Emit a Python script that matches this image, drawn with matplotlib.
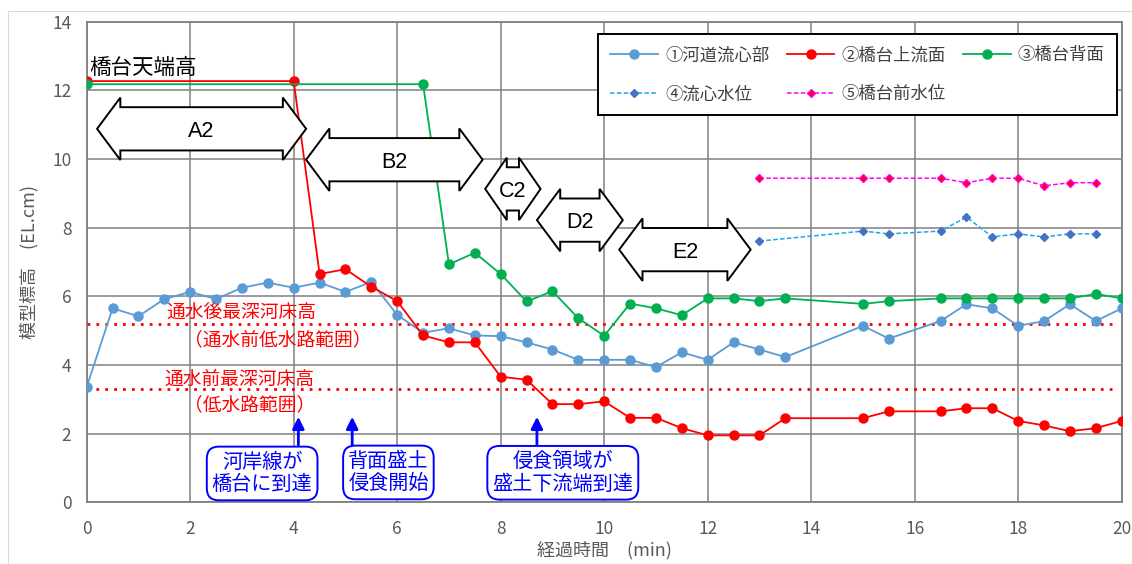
import numpy as np
import matplotlib
matplotlib.use('Agg')
import matplotlib.pyplot as plt
from matplotlib.patches import Polygon, Rectangle

plt.rcParams['font.family'] = ['Noto Sans CJK JP', 'DejaVu Sans']

# Data ----
t1 = [0, 0.5, 1, 1.5, 2, 2.5, 3, 3.5, 4, 4.5, 5, 5.5, 6, 6.5, 7, 7.5, 8, 8.5,
      9, 9.5, 10, 10.5, 11, 11.5, 12, 12.5, 13, 13.5, 15, 15.5, 16.5, 17,
      17.5, 18, 18.5, 19, 19.5, 20]
channel = [3.36, 5.65, 5.42, 5.92, 6.13, 5.92, 6.25, 6.40, 6.25, 6.40, 6.13,
           6.42, 5.46, 4.94, 5.07, 4.86, 4.84, 4.66, 4.45, 4.15, 4.15, 4.15,
           3.94, 4.37, 4.15, 4.66, 4.45, 4.23, 5.14, 4.77, 5.28, 5.77, 5.65,
           5.14, 5.28, 5.77, 5.28, 5.65]

t2 = [0, 4, 4.5, 5, 5.5, 6, 6.5, 7, 7.5, 8, 8.5, 9, 9.5, 10, 10.5, 11, 11.5,
      12, 12.5, 13, 13.5, 15, 15.5, 16.5, 17, 17.5, 18, 18.5, 19, 19.5, 20]
upstream = [12.27, 12.27, 6.65, 6.79, 6.28, 5.86, 4.86, 4.66, 4.66, 3.66,
            3.57, 2.86, 2.86, 2.94, 2.46, 2.46, 2.16, 1.95, 1.95, 1.95, 2.45,
            2.45, 2.65, 2.65, 2.74, 2.74, 2.37, 2.24, 2.07, 2.16, 2.37]

t3 = [0, 6.5, 7, 7.5, 8, 8.5, 9, 9.5, 10, 10.5, 11, 11.5, 12, 12.5, 13, 13.5,
      15, 15.5, 16.5, 17, 17.5, 18, 18.5, 19, 19.5, 20]
back = [12.18, 12.18, 6.93, 7.27, 6.65, 5.85, 6.15, 5.36, 4.85, 5.79, 5.65,
        5.45, 5.94, 5.94, 5.86, 5.94, 5.78, 5.86, 5.94, 5.94, 5.94, 5.94,
        5.94, 5.94, 6.07, 5.94]

t4 = [13, 15, 15.5, 16.5, 17, 17.5, 18, 18.5, 19, 19.5]
water_channel = [7.61, 7.90, 7.82, 7.90, 8.31, 7.73, 7.82, 7.73, 7.82, 7.82]
water_front = [9.44, 9.44, 9.44, 9.44, 9.31, 9.44, 9.44, 9.22, 9.31, 9.31]

bed_after = 5.2
bed_before = 3.3

# Phase arrows: label, x start, x end, y centre
phases = [('A2', 0.20, 4.24, 10.88),
          ('B2', 4.24, 7.65, 9.98),
          ('C2', 7.70, 8.77, 9.13),
          ('D2', 8.70, 10.36, 8.22),
          ('E2', 10.29, 12.83, 7.36)]

# Event notes: text, box centre x, box centre y, arrow x
events = [('河岸線が\n橋台に到達', 3.39, 0.84, 4.09),
          ('背面盛土\n侵食開始', 5.83, 0.87, 5.13),
          ('侵食領域が\n盛土下流端到達', 9.20, 0.86, 8.70)]

# Plotting ----
fig = plt.figure(figsize=(11.32, 5.64), dpi=100)
ax = fig.add_axes([0.0766, 0.1094, 0.9143, 0.8521])

# light chart border
fig.patches.append(Rectangle((0.007, -0.01), 1.0, 0.99, transform=fig.transFigure,
                             fill=False, ec='#d9d9d9', lw=0.8))

l1, = ax.plot(t1, channel, color='#5B9BD5', lw=1.3, marker='o', ms=6.5,
              label='①河道流心部', zorder=4)
l2, = ax.plot(t2, upstream, color='#FF0000', lw=1.3, marker='o', ms=6.5,
              label='②橋台上流面', zorder=4)
l3, = ax.plot(t3, back, color='#00B050', lw=1.3, marker='o', ms=6.5,
              label='③橋台背面', zorder=4)
l4, = ax.plot(t4, water_channel, color='#1CA7EC', lw=1.1, ls=(0, (3, 1.5)),
              marker='D', ms=4.2, mfc='#4472C4', mec='#4472C4',
              label='④流心水位', zorder=4)
l5, = ax.plot(t4, water_front, color='#FF00FF', lw=1.1, ls=(0, (3, 1.5)),
              marker='D', ms=4.2, mfc='#FF0000', mec='#FF00FF',
              label='⑤橋台前水位', zorder=4)

for yv in (bed_after, bed_before):
    ax.plot([0, 19.9], [yv, yv], color='#FF0000', lw=2.0, ls=(0, (1, 2.2)),
            zorder=3)

red_kw = dict(color='#FF0000', fontsize=13.5, ha='center', va='center', zorder=5)
ax.text(3.0, 5.52, '通水後最深河床高', **red_kw)
ax.text(3.69, 4.74, '（通水前低水路範囲）', **red_kw)
ax.text(2.96, 3.59, '通水前最深河床高', **red_kw)
ax.text(3.14, 2.83, '（低水路範囲）', **red_kw)

ax.text(0.06, 12.64, '橋台天端高', fontsize=15.5, ha='left', va='center',
        color='black', zorder=5)

# double block arrows
hh, sh = 0.91, 0.63
for label, x0, x1, yc in phases:
    hl = min(0.45, (x1 - x0) * 0.39)
    verts = [(x0, yc), (x0 + hl, yc + hh), (x0 + hl, yc + sh),
             (x1 - hl, yc + sh), (x1 - hl, yc + hh), (x1, yc),
             (x1 - hl, yc - hh), (x1 - hl, yc - sh), (x0 + hl, yc - sh),
             (x0 + hl, yc - hh)]
    ax.add_patch(Polygon(verts, closed=True, fc='white', ec='black', lw=1.4,
                         zorder=6, clip_on=False))
    ax.text((x0 + x1) / 2, yc - 0.08, label, fontsize=15.5, ha='center',
            va='center', zorder=7, family=['Liberation Sans', 'DejaVu Sans'])

# event notes
for text, xc, yc, xa in events:
    ax.text(xc, yc, text, color='#0000FF', fontsize=14.5, ha='center',
            va='center', linespacing=1.1, zorder=7,
            bbox=dict(boxstyle='round,pad=0.25,rounding_size=0.6', fc='white',
                      ec='#0000FF', lw=1.4))
    ax.annotate('', xy=(xa, 2.49), xytext=(xa, 1.67),
                arrowprops=dict(arrowstyle='-|>,head_length=0.7,head_width=0.35',
                                color='#0000FF', lw=2.0, shrinkA=0, shrinkB=0),
                zorder=7)

ax.set_xlim(0, 20)
ax.set_ylim(0, 14)
ax.set_xticks(np.arange(0, 21, 2))
ax.set_yticks(np.arange(0, 15, 2))
ax.grid(True, color='#808080', lw=1.1)
ax.set_axisbelow(True)
for s in ax.spines.values():
    s.set_color('#808080')
    s.set_linewidth(1.3)
ax.tick_params(length=0, labelsize=12.5, colors='#595959', pad=11)
ax.tick_params(axis='x', pad=13)
ax.set_xlabel('経過時間　(min)', fontsize=13, color='#595959', labelpad=2)
ax.set_ylabel('模型標高　(EL.cm)', fontsize=13, color='#595959', labelpad=10)

# legend in column order so rows read ①②③ / ④⑤
leg = ax.legend(handles=[l1, l4, l2, l5, l3], ncol=3, loc='upper right',
                bbox_to_anchor=(0.9952, 0.9738), borderaxespad=0,
                fancybox=False, edgecolor='black', fontsize=12.5,
                handlelength=2.75, handletextpad=0.4, columnspacing=1.0,
                labelspacing=1.2, borderpad=0.7, framealpha=1,
                labelcolor='#404040')
leg.get_frame().set_linewidth(1.4)
leg.set_zorder(8)

fig.savefig('out.png', dpi=100)
